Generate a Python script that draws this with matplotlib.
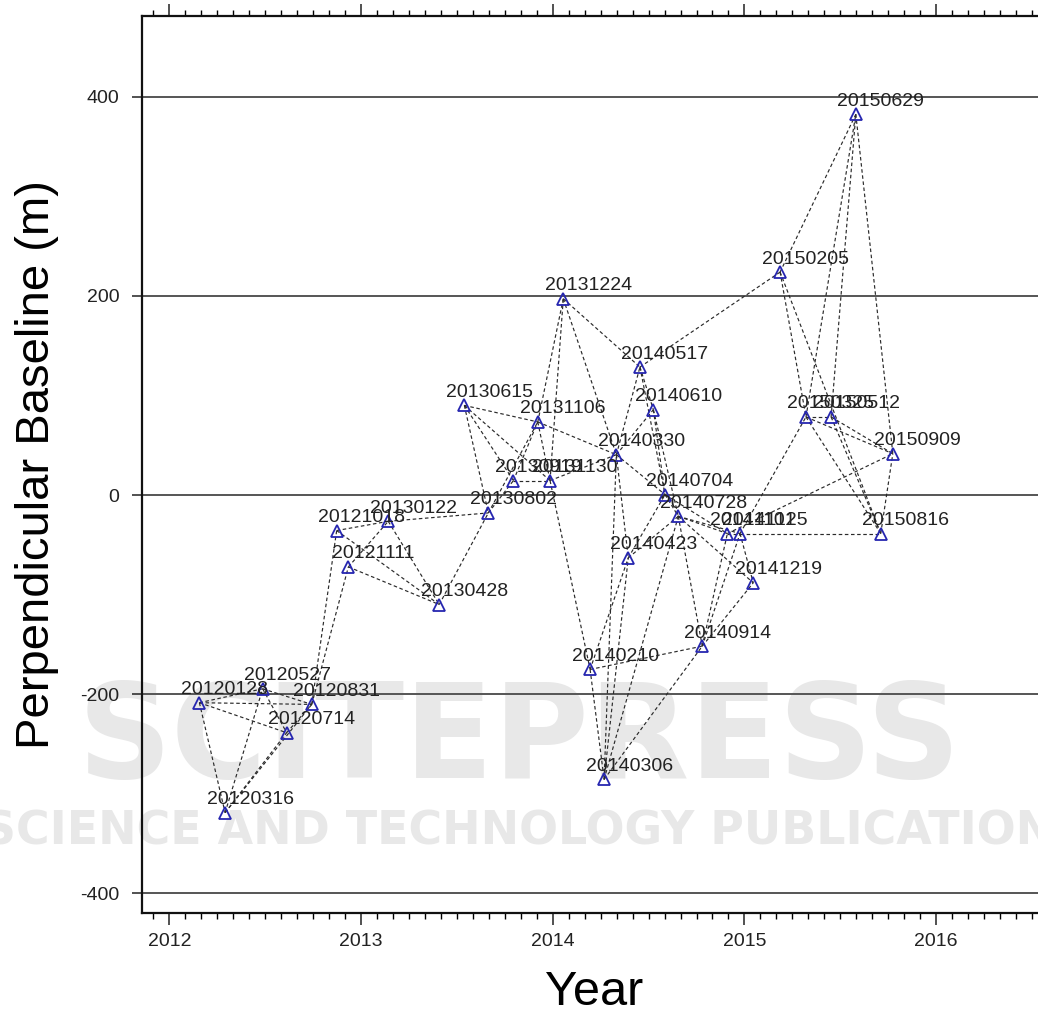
import matplotlib
matplotlib.use("Agg")
import matplotlib.pyplot as plt
from matplotlib.ticker import MultipleLocator, FuncFormatter

# ---------------- data ----------------
dates = ["20120128", "20120316", "20120527", "20120714", "20120831",
         "20121018", "20121111", "20130122", "20130428", "20130615",
         "20130802", "20130919", "20131106", "20131130", "20131224",
         "20140210", "20140306", "20140330", "20140423", "20140517",
         "20140610", "20140704", "20140728", "20140914", "20141101",
         "20141125", "20141219", "20150205", "20150325", "20150512",
         "20150629", "20150816", "20150909"]

year_pos = [2012.157, 2012.291, 2012.487, 2012.612, 2012.743,
            2012.873, 2012.934, 2013.142, 2013.408, 2013.539,
            2013.664, 2013.795, 2013.922, 2013.986, 2014.055,
            2014.195, 2014.268, 2014.332, 2014.394, 2014.455,
            2014.525, 2014.586, 2014.655, 2014.780, 2014.911,
            2014.977, 2015.046, 2015.186, 2015.321, 2015.452,
            2015.581, 2015.711, 2015.774]

baseline = [-208.5, -318.9, -194.5, -238.6, -210.2,
            -35.6, -72.1, -26.3, -109.9, 90.1,
            -17.9, 14.6, 73.5, 14.6, 197.2,
            -175.1, -285.5, 40.6, -63.0, 128.6,
            85.8, 0.5, -21.3, -151.7, -38.6,
            -38.6, -88.1, 224.0, 78.5, 78.5,
            382.5, -38.6, 41.6]

pairs_master = ["20120128", "20120128", "20120128", "20120128", "20120316",
                "20120316", "20120316", "20120527", "20120527", "20120714",
                "20120831", "20120831", "20121018", "20121018", "20121111",
                "20121111", "20130122", "20130122", "20130428", "20130615",
                "20130615", "20130615", "20130615", "20130802", "20130802",
                "20130919", "20130919", "20131106", "20131106", "20131106",
                "20131130", "20131130", "20131130", "20131224", "20131224",
                "20140210", "20140210", "20140210", "20140306", "20140306",
                "20140306", "20140306", "20140330", "20140330", "20140330",
                "20140330", "20140423", "20140423", "20140517", "20140517",
                "20140517", "20140610", "20140610", "20140704", "20140704",
                "20140728", "20140728", "20140728", "20140728", "20140914",
                "20140914", "20140914", "20141101", "20141125", "20141125",
                "20141125", "20141101", "20150205", "20150205", "20150205",
                "20150325", "20150325", "20150325", "20150325", "20150512",
                "20150512", "20150512", "20150629", "20150816"]
pairs_slave = ["20120316", "20120527", "20120714", "20120831", "20120527",
               "20120714", "20120831", "20120831", "20120714", "20120831",
               "20121018", "20121111", "20130122", "20130428", "20130122",
               "20130428", "20130428", "20130802", "20130802", "20130802",
               "20130919", "20131106", "20131130", "20130919", "20131106",
               "20131130", "20131106", "20131130", "20140330", "20131224",
               "20131224", "20140330", "20140210", "20140330", "20140517",
               "20140306", "20140423", "20140914", "20140330", "20140423",
               "20140728", "20140914", "20140423", "20140517", "20140610",
               "20140704", "20140704", "20140728", "20140610", "20140704",
               "20150205", "20140704", "20140728", "20140728", "20141101",
               "20141101", "20141125", "20140914", "20141219", "20141101",
               "20141125", "20141219", "20141125", "20141219", "20150325",
               "20150816", "20150909", "20150325", "20150629", "20150816",
               "20150512", "20150629", "20150816", "20150909", "20150629",
               "20150816", "20150909", "20150909", "20150909"]

y_ticks = [-400, -200, 0, 200, 400]
x_ticks = [2012, 2013, 2014, 2015, 2016]

# ---------------- figure ----------------
plt.rcParams['font.family'] = ['Liberation Sans', 'DejaVu Sans']
plt.rcParams['axes.unicode_minus'] = False

W, H = 1038, 1017
fig = plt.figure(figsize=(W / 100, H / 100), dpi=100)
left_px, right_px, top_px, bot_px = 141.7, 1046.0, 15.7, 913.3
ax = fig.add_axes([left_px / W, (H - bot_px) / H,
                   (right_px - left_px) / W, (bot_px - top_px) / H])
ax.set_facecolor('none')

# faint publisher watermark behind the plot
fig.text(0.5, 1 - 742 / H, "SCITEPRESS", ha='center', va='center',
         fontsize=94, fontweight='bold', color='#e8e8e8', zorder=-5,
         family='DejaVu Sans')
fig.text(0.515, 1 - 832 / H, "SCIENCE AND TECHNOLOGY PUBLICATIONS",
         ha='center', va='center', fontsize=33, fontweight='bold',
         color='#e8e8e8', zorder=-5, family='DejaVu Sans')

ax.set_xlim(2011.856, 2016.573)
ax.set_ylim(-420, 481.5)

for yv in y_ticks:
    ax.axhline(yv, color='#555555', lw=1.4, zorder=1)

pos = {d: (x, y) for d, x, y in zip(dates, year_pos, baseline)}
for m, s in zip(pairs_master, pairs_slave):
    (x1, y1), (x2, y2) = pos[m], pos[s]
    ax.plot([x1, x2], [y1, y2], color='#2a2a2a', lw=0.85,
            linestyle=(0, (3.0, 2.2)), zorder=2)

ax.plot(year_pos, baseline, linestyle='none', marker='^', markersize=8,
        markerfacecolor='none', markeredgecolor='#2626b0', markeredgewidth=1.3,
        zorder=3)

for d, x, y in zip(dates, year_pos, baseline):
    ax.annotate(d, (x, y), xytext=(25, 8.5), textcoords='offset pixels',
                ha='center', va='baseline', fontsize=14, color='#222222',
                zorder=4)

# axes styling
for side in ['left', 'bottom', 'top']:
    ax.spines[side].set_linewidth(1.6)
    ax.spines[side].set_color('#111111')
ax.spines['right'].set_visible(False)

ax.set_xticks(x_ticks)
ax.xaxis.set_major_formatter(FuncFormatter(lambda v, p: f"{int(round(v))}"))
ax.xaxis.set_minor_locator(MultipleLocator(1 / 12))
ax.set_yticks(y_ticks)
ax.tick_params(axis='x', which='major', direction='out', length=8.5, width=1.1,
               top=True, bottom=True, labelsize=14, pad=6, colors='#222222')
ax.tick_params(axis='x', which='minor', direction='out', length=4.5, width=1.0,
               top=True, bottom=True)
ax.tick_params(axis='y', which='major', direction='out', length=7, width=1.1,
               labelsize=14, pad=9, colors='#222222')

ax.set_xlabel("Year", fontsize=35, va='center')
ax.xaxis.set_label_coords(0.5, -0.088)
ax.set_ylabel("Perpendicular Baseline (m)", fontsize=34, va='center')
ax.yaxis.set_label_coords(-0.1158, 0.5)

fig.savefig("out.png", dpi=100)
